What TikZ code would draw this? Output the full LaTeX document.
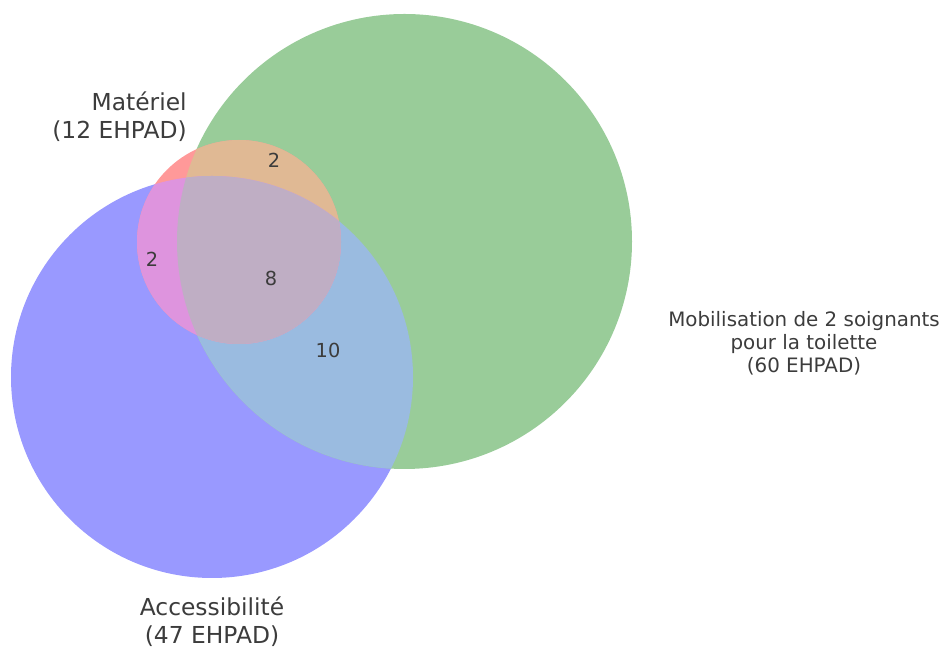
\documentclass[tikz,border=0pt]{standalone}
\usepackage{fontspec}
\setmainfont{DejaVu Sans}
\definecolor{txtgray}{RGB}{60,60,60}
\definecolor{redonly}{RGB}{255,153,153}
\definecolor{greenonly}{RGB}{153,204,153}
\definecolor{blueonly}{RGB}{153,153,255}
\definecolor{redgreen}{RGB}{224,185,148}
\definecolor{redblue}{RGB}{222,148,222}
\definecolor{greenblue}{RGB}{154,187,224}
\definecolor{allthree}{RGB}{191,174,196}
\begin{document}
\begin{tikzpicture}[x=.02cm,y=.02cm,
    setlabel/.style={text=txtgray,inner sep=0,font=\fontsize{13.3}{16}\selectfont},
    biglabel/.style={text=txtgray,inner sep=0,align=center,font=\fontsize{11.3}{13}\selectfont},
    count/.style={text=txtgray,inner sep=0,font=\fontsize{11}{13}\selectfont}]
    \useasboundingbox (0,0) rectangle (942,648);
    % the three sets
    \fill[blueonly] (212,271) circle (201);
    \fill[greenonly] (404.5,406.5) circle (227.5);
    \fill[redonly] (239,406) circle (102);
    % overlaps
    \begin{scope}
        \clip (404.5,406.5) circle (227.5);
        \fill[greenblue] (212,271) circle (201);
    \end{scope}
    \begin{scope}
        \clip (239,406) circle (102);
        \fill[redgreen] (404.5,406.5) circle (227.5);
        \fill[redblue] (212,271) circle (201);
        \clip (404.5,406.5) circle (227.5);
        \fill[allthree] (212,271) circle (201);
    \end{scope}
    % labels
    \node[setlabel,anchor=east,align=right] (materiel) at (187,531) {Matériel\\(12 EHPAD)};
    \node[setlabel,align=center] (access) at (212,26) {Accessibilité\\(47 EHPAD)};
    \node[biglabel] (mobil) at (804,305) {Mobilisation de 2 soignants\\pour la toilette\\(60 EHPAD)};
    \node[count] (rg) at (274,488) {2};
    \node[count] (rb) at (152,389) {2};
    \node[count] (rgb) at (271,370) {8};
    \node[count] (gb) at (328,298) {10};
\end{tikzpicture}
\end{document}
